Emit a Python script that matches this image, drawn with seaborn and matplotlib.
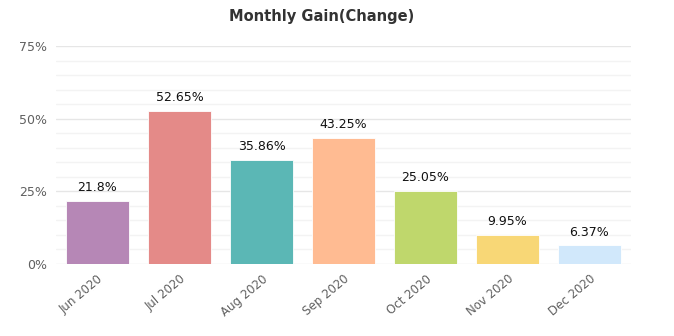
import matplotlib
matplotlib.use("Agg")
import matplotlib.pyplot as plt
import seaborn as sns
import pandas as pd
from matplotlib.ticker import MultipleLocator, FuncFormatter

months = ["Jun 2020", "Jul 2020", "Aug 2020", "Sep 2020", "Oct 2020", "Nov 2020", "Dec 2020"]
gains = [21.8, 52.65, 35.86, 43.25, 25.05, 9.95, 6.37]
labels = ["21.8%", "52.65%", "35.86%", "43.25%", "25.05%", "9.95%", "6.37%"]
colors = ["#b687b6", "#e48a88", "#5bb7b5", "#ffbb92", "#bfd76c", "#f8d776", "#d1e8fb"]

df = pd.DataFrame({"month": months, "gain": gains})

sns.set_theme(style="white")
plt.rcParams['font.family'] = ['DejaVu Sans']

fig = plt.figure(figsize=(6.74, 3.36), dpi=100)
ax = fig.add_axes([56.5/674, 72/336, 574/674, 218/336])

sns.barplot(data=df, x="month", y="gain", hue="month", palette=colors, legend=False,
            width=0.77, ax=ax, saturation=1, edgecolor="white", linewidth=0.6)

ax.set_ylim(0, 75)
ax.set_xlim(-0.5, len(months) - 0.5)
ax.yaxis.set_major_locator(MultipleLocator(25))
ax.yaxis.set_minor_locator(MultipleLocator(5))
ax.yaxis.set_major_formatter(FuncFormatter(lambda v, p: f"{int(v)}%"))
ax.grid(which="major", axis="y", color="#e6e6e6", linewidth=1)
ax.grid(which="minor", axis="y", color="#f3f3f3", linewidth=1)
ax.set_axisbelow(True)
for s in ax.spines.values():
    s.set_visible(False)
ax.tick_params(axis="both", which="both", length=0)
ax.tick_params(axis="y", labelsize=9, labelcolor="#606060", pad=7)
ax.tick_params(axis="x", labelsize=8.5, labelcolor="#606060", pad=6)
for t in ax.get_xticklabels():
    t.set_rotation(40)
    t.set_ha("right")
    t.set_rotation_mode("anchor")
ax.set_xlabel("")
ax.set_ylabel("")

for i, (g, lab) in enumerate(zip(gains, labels)):
    ax.annotate(lab, (i, g), xytext=(0, 5), textcoords="offset points",
                ha="center", va="bottom", fontsize=9, color="#111111")

fig.suptitle("Monthly Gain(Change)", x=322/674, y=1 - 16/336, va="center",
             fontsize=10.5, fontweight="bold", color="#333333")

fig.savefig("out.png", dpi=100)
